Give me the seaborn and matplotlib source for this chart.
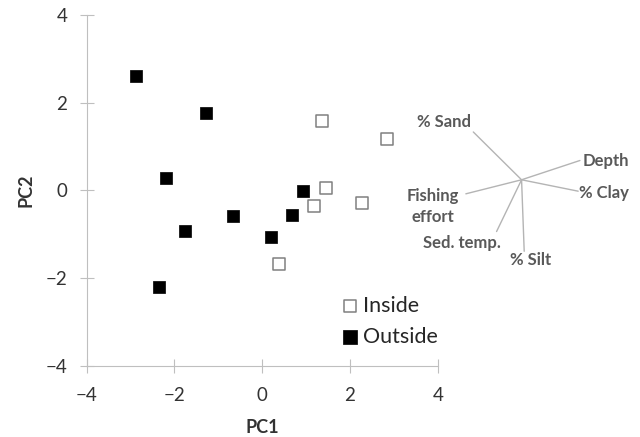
"""PCA biplot of sites inside / outside, with environmental vectors."""

import matplotlib
matplotlib.use("Agg")
import matplotlib.pyplot as plt
import pandas as pd
import seaborn as sns

# site scores
inside_pc1 = [1.36, 2.85, 1.46, 1.18, 2.27, 0.38]
inside_pc2 = [1.59, 1.16, 0.05, -0.36, -0.30, -1.67]
outside_pc1 = [-2.87, -1.29, -2.20, -1.77, -0.66, 0.20, 0.67, 0.93, -2.36]
outside_pc2 = [2.60, 1.77, 0.27, -0.93, -0.59, -1.07, -0.57, -0.02, -2.21]

# environmental vectors (origin and tips, in PC units)
vec_origin = (5.91, 0.24)
vec_names = ["% Sand", "Depth", "% Clay", "Fishing\neffort", "Sed. temp.", "% Silt"]
vec_x = [4.81, 7.24, 7.20, 4.64, 5.34, 5.97]
vec_y = [1.33, 0.68, -0.02, -0.08, -0.94, -1.39]
lab_x = [4.75, 7.30, 7.22, 3.89, 4.55, 6.12]
lab_y = [1.55, 0.66, -0.05, -0.37, -1.20, -1.58]
lab_ha = ["right", "left", "left", "center", "center", "center"]

df = pd.concat([
    pd.DataFrame({"PC1": inside_pc1, "PC2": inside_pc2, "Site": "Inside"}),
    pd.DataFrame({"PC1": outside_pc1, "PC2": outside_pc2, "Site": "Outside"}),
])

sns.set_style("white")
plt.rcParams["font.family"] = ["Lato", "DejaVu Sans"]

fig = plt.figure(figsize=(6.4, 4.37), dpi=100)
ax = fig.add_axes([0.1355, 0.163, 0.5485, 0.803])

sns.scatterplot(data=df[df.Site == "Inside"], x="PC1", y="PC2", marker="s",
                s=70, color="white", edgecolor="#808080", linewidth=1.1,
                label="Inside", ax=ax, zorder=3)
sns.scatterplot(data=df[df.Site == "Outside"], x="PC1", y="PC2", marker="s",
                s=80, color="black", edgecolor="black", linewidth=0.5,
                label="Outside", ax=ax, zorder=3)

ox, oy = vec_origin
for tx, ty in zip(vec_x, vec_y):
    ax.plot([ox, tx], [oy, ty], color="#b4b4b4", lw=1, clip_on=False)
for name, x, y, ha in zip(vec_names, lab_x, lab_y, lab_ha):
    ax.text(x, y, name, ha=ha, va="center", fontsize=12, fontweight="bold",
            color="#595959", clip_on=False, linespacing=1.35)

ax.set_xlim(-4, 4)
ax.set_ylim(-4, 4)
ax.set_xticks([-4, -2, 0, 2, 4])
ax.set_yticks([-4, -2, 0, 2, 4])
for side in ["top", "right"]:
    ax.spines[side].set_visible(False)
for side in ["left", "bottom"]:
    ax.spines[side].set_color("#bfbfbf")
ax.tick_params(direction="inout", length=10, color="#bfbfbf", labelsize=13.5,
               labelcolor="#333333", left=True, bottom=True)
ax.tick_params(axis="x", pad=10)
ax.tick_params(axis="y", pad=9)
ax.set_xlabel("PC1", fontsize=13, fontweight="bold", color="#333333", labelpad=11)
ax.set_ylabel("PC2", fontsize=13, fontweight="bold", color="#333333", labelpad=8)

ax.legend(loc="lower left", bbox_to_anchor=(0.663, 0.03), frameon=False,
          fontsize=15.5, handletextpad=-0.4, labelspacing=0.5, markerscale=1.1,
          borderaxespad=0)

fig.savefig("out.png", dpi=100)
